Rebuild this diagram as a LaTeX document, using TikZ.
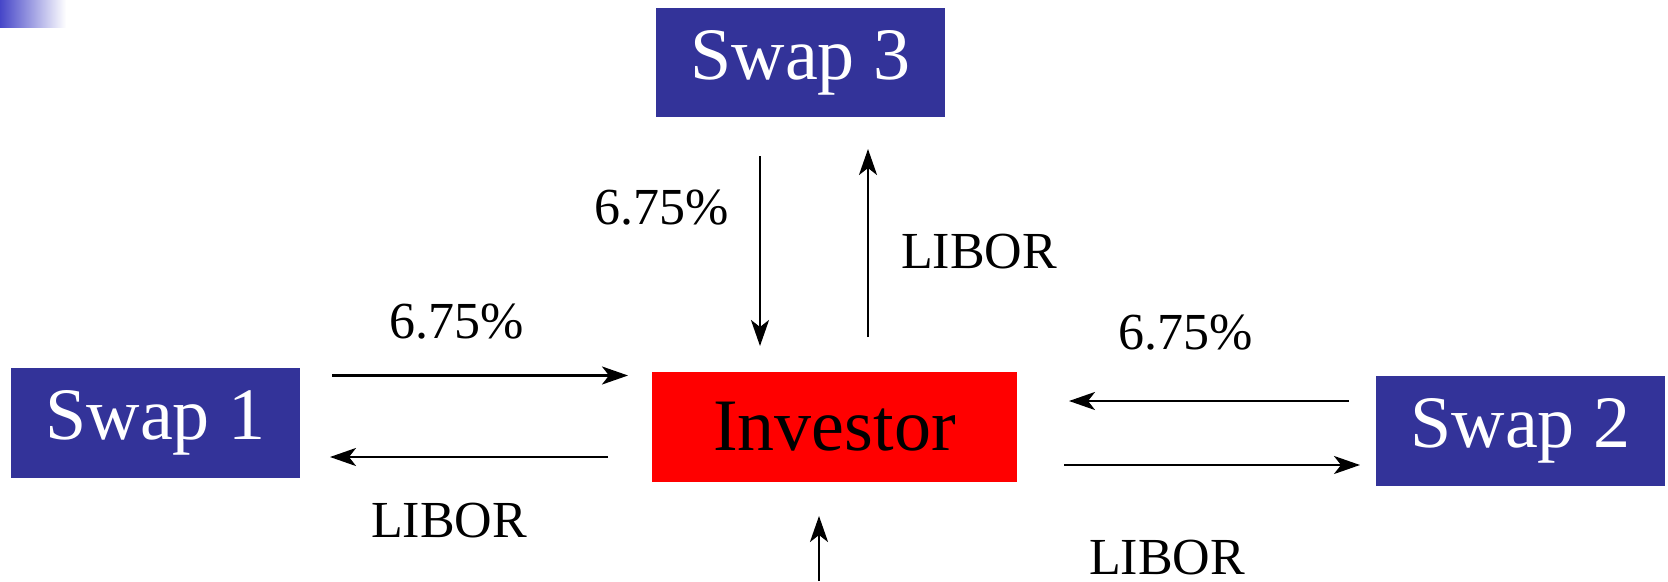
\documentclass[tikz,border=0pt]{standalone}
\usepackage{fontspec}
\setmainfont{Liberation Serif}
\usetikzlibrary{arrows.meta}
\definecolor{swapblue}{RGB}{51,51,153}
\definecolor{gradblue}{RGB}{70,70,200}
\begin{document}
\begin{tikzpicture}[x=1pt,y=-1pt,
  swapbox/.style={fill=swapblue,text=white,inner sep=0pt,minimum width=289pt,minimum height=110pt,font=\fontsize{74}{80}\selectfont},
  invbox/.style={fill=red,text=black,inner sep=0pt,minimum width=365pt,minimum height=110pt,font=\fontsize{74}{80}\selectfont},
  flow/.style={line width=2.6pt,-{Stealth[length=26pt,width=18pt,inset=7pt]}},
  lbl/.style={inner sep=0pt,font=\fontsize{52}{56}\selectfont}]
\useasboundingbox (0,0) rectangle (1668,581);
\shade[left color=gradblue,right color=white] (0,0) rectangle (66,27);
\node[swapbox,minimum height=109pt] (s3) at (800.5,62.5) {Swap 3};
\node[swapbox] (s1) at (155.5,423) {Swap 1};
\node[invbox] (inv) at (834.5,427) {Investor};
\node[swapbox] (s2) at (1520.5,431) {Swap 2};
% arrow endpoints
\coordinate (a1s) at (332,375.5); \coordinate (a1e) at (628,375.5);
\coordinate (a2s) at (608,457); \coordinate (a2e) at (330,457);
\coordinate (a3s) at (760,156); \coordinate (a3e) at (760,346);
\coordinate (a4s) at (868,337); \coordinate (a4e) at (868,149);
\coordinate (a5s) at (1349,401); \coordinate (a5e) at (1069,401);
\coordinate (a6s) at (1064,465); \coordinate (a6e) at (1360,465);
\coordinate (a7s) at (819,581); \coordinate (a7e) at (819,516);
\draw[flow] (a1s) -- (a1e);
\draw[flow] (a2s) -- (a2e);
\draw[flow] (a3s) -- (a3e);
\draw[flow] (a4s) -- (a4e);
\draw[flow] (a5s) -- (a5e);
\draw[flow] (a6s) -- (a6e);
\draw[flow] (a7s) -- (a7e);
\node[lbl] (l1) at (457,322) {6.75\%};
\node[lbl] (l2) at (449,521) {LIBOR};
\node[lbl] (l3) at (662,208) {6.75\%};
\node[lbl] (l4) at (979,252) {LIBOR};
\node[lbl] (l5) at (1186,333) {6.75\%};
\node[lbl] (l6) at (1167,558) {LIBOR};
\end{tikzpicture}
\end{document}
